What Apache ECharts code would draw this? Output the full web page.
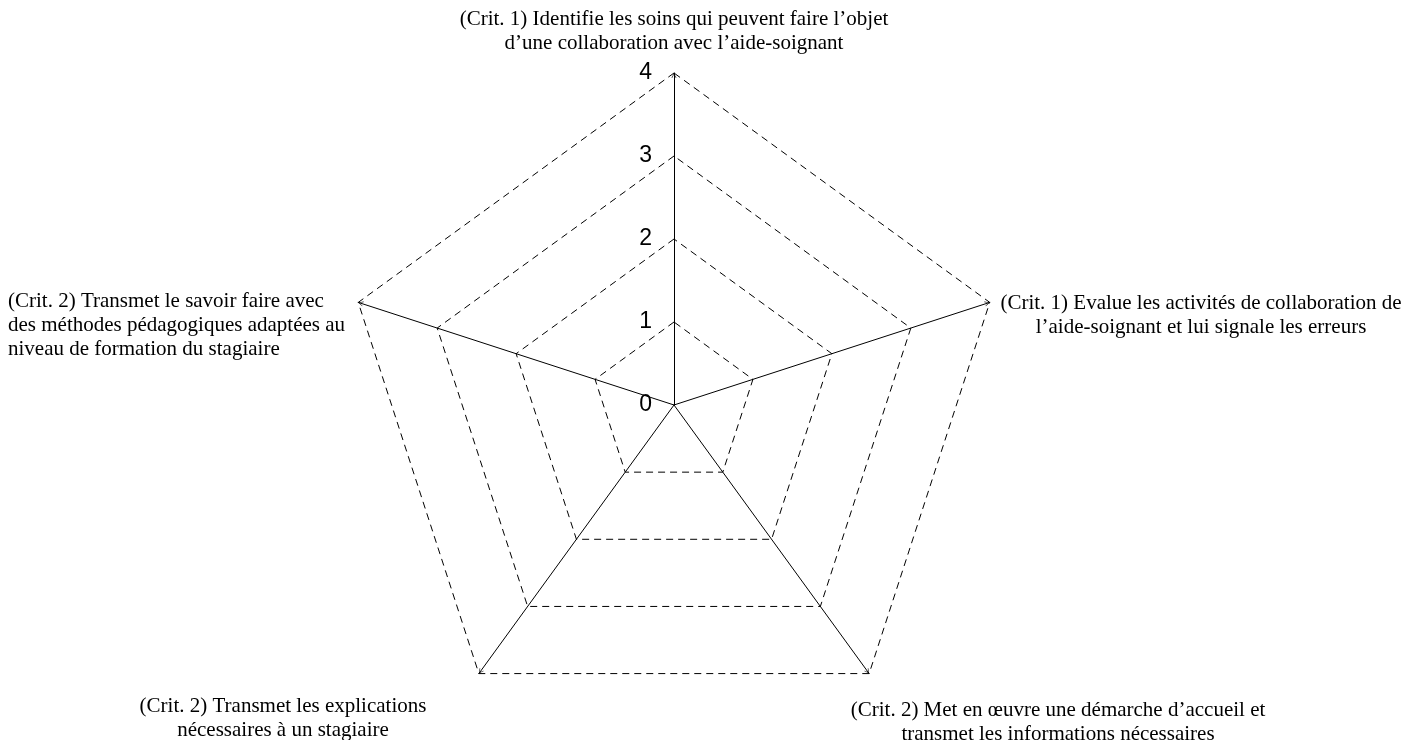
<!DOCTYPE html>
<html>
<head>
<meta charset="utf-8">
<script src="https://cdn.jsdelivr.net/npm/echarts@6/dist/echarts.min.js"></script>
<style>html,body{margin:0;padding:0;background:#fff}#c{width:1411px;height:740px}</style>
</head>
<body>
<div id="c"></div>
<script>
const indicatorNames = [
  "(Crit. 1) Identifie les soins qui peuvent faire l’objet\nd’une collaboration avec l’aide-soignant",
  "(Crit. 2) Transmet le savoir faire avec\ndes méthodes pédagogiques adaptées au\nniveau de formation du stagiaire",
  "(Crit. 2) Transmet les explications\nnécessaires à un stagiaire",
  "(Crit. 2) Met en œuvre une démarche d’accueil et\ntransmet les informations nécessaires",
  "(Crit. 1) Evalue les activités de collaboration de\nl’aide-soignant et lui signale les erreurs"
];
const maxValue = 4;
const tickLabels = ["0", "1", "2", "3", "4"];
const seriesValues = [0, 0, 0, 0, 0];

const labelPlacement = [
  {x: 674, y: 31, align: 'center'},
  {x: 8, y: 325, align: 'left'},
  {x: 283, y: 718, align: 'center'},
  {x: 1058, y: 722, align: 'center'},
  {x: 1201, y: 315, align: 'center'}
];

const chevron = 'path://M0,10 L5,0 L10,10 L8.8,10 L5,2.4 L1.2,10 Z';

const chart = echarts.init(document.getElementById('c'));
const serif = '"Liberation Serif", "Times New Roman", serif';
chart.setOption({
  animation: false,
  radar: {
    center: [674, 405],
    radius: 332,
    startAngle: 90,
    shape: 'polygon',
    splitNumber: 4,
    indicator: indicatorNames.map((n, i) => ({
      name: n, min: 0, max: maxValue,
      axisLabel: i === 0 ? {show: true} : {show: false}
    })),
    axisName: {show: false},
    axisLine: {
      symbol: ['none', chevron],
      symbolSize: [7, 5],
      symbolOffset: [0, -2.5],
      lineStyle: {color: '#000', width: 1}
    },
    splitLine: {lineStyle: {color: '#000', width: 1, type: [7, 5]}},
    splitArea: {show: false},
    axisTick: {show: false},
    axisLabel: {
      show: false,
      color: '#000',
      fontSize: 23,
      fontFamily: '"Liberation Sans", Arial, sans-serif',
      margin: 22,
      verticalAlign: 'middle',
      padding: [3, 0, 0, 0],
      formatter: v => tickLabels[Math.round(v)]
    }
  },
  graphic: indicatorNames.map((n, i) => ({
    type: 'text',
    silent: true,
    style: {
      x: labelPlacement[i].x,
      y: labelPlacement[i].y,
      text: n,
      align: labelPlacement[i].align,
      verticalAlign: 'middle',
      fill: '#000',
      font: '21px ' + serif,
      lineHeight: 24
    }
  })),
  series: [{
    type: 'radar',
    symbol: 'none',
    lineStyle: {color: '#000', width: 0},
    data: [{value: seriesValues}]
  }]
});
</script>
</body>
</html>
